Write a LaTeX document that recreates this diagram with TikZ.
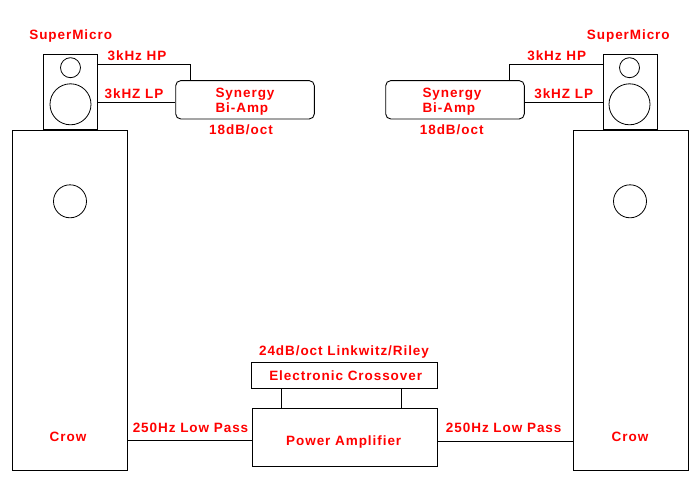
\documentclass[tikz,border=0pt]{standalone}
\usepackage{fontspec}
\setmainfont{Liberation Sans}[LetterSpace=7]
\definecolor{lblred}{RGB}{255,0,0}
\begin{document}
\begin{tikzpicture}[x=1pt,y=-1pt,
  box/.style={draw,line width=0.9pt,inner sep=0pt},
  cone/.style={draw,line width=0.8pt,circle,inner sep=0pt},
  lbl/.style={text=lblred,font=\fontsize{13.5}{15.5}\selectfont\bfseries,inner sep=0pt},
  wire/.style={line width=0.9pt}]
\useasboundingbox (0,0) rectangle (700,500);
% left side
\node[box,minimum width=115,minimum height=340] (crowL) at (69.5,300) {};
\node[cone,minimum size=33] (dL) at (70,201.3) {};
\node[box,minimum width=54,minimum height=75] (smL) at (70,91.7) {};
\node[cone,minimum size=20] (twL) at (70.5,67.7) {};
\node[cone,minimum size=41] (woL) at (70.5,104.3) {};
\node[box,rounded corners=5pt,minimum width=138.6,minimum height=38.3] (biL) at (245,99.8) {};
\node[lbl,align=left] (biLt) at (245,101.5) {Synergy\\Bi-Amp};
\node[lbl] (smLt) at (70.7,35.7) {SuperMicro};
\node[lbl] (hpLt) at (137,56) {3kHz HP};
\node[lbl] (lpLt) at (134,94) {3kHZ LP};
\node[lbl] (dbLt) at (241,130) {18dB/oct};
\node[lbl] (crowLt) at (68,436.7) {Crow};
% right side
\node[box,minimum width=115,minimum height=340] (crowR) at (630.5,300) {};
\node[cone,minimum size=33] (dR) at (630,201.3) {};
\node[box,minimum width=54,minimum height=75] (smR) at (630,91.7) {};
\node[cone,minimum size=20] (twR) at (629.5,67.7) {};
\node[cone,minimum size=41] (woR) at (629.5,104.3) {};
\node[box,rounded corners=5pt,minimum width=138.6,minimum height=38.3] (biR) at (455,99.8) {};
\node[lbl,align=left] (biRt) at (452,101.5) {Synergy\\Bi-Amp};
\node[lbl] (smRt) at (628.3,35.7) {SuperMicro};
\node[lbl] (hpRt) at (556.7,56) {3kHz HP};
\node[lbl] (lpRt) at (563.7,94) {3kHZ LP};
\node[lbl] (dbRt) at (451.7,130) {18dB/oct};
\node[lbl] (crowRt) at (630,436.7) {Crow};
% bottom
\node[box,minimum width=185.6,minimum height=26] (xo) at (344.5,375.3) {};
\node[lbl] (xot) at (345.7,375.7) {Electronic Crossover};
\node[lbl] (lrt) at (344,352.3) {24dB/oct Linkwitz/Riley};
\node[box,minimum width=185,minimum height=58] (amp) at (344.8,437.3) {};
\node[lbl] (ampt) at (343.7,441.7) {Power Amplifier};
\node[lbl] (lpbL) at (190.5,428.3) {250Hz Low Pass};
\node[lbl] (lpbR) at (503.7,428.3) {250Hz Low Pass};
% wires
\draw[wire] (smL.east |- 0,64.3) -| ([xshift=-54.3]biL.north);
\draw[wire] (smL.east |- 0,102.3) -- (biL.west |- 0,102.3);
\draw[wire] (smR.west |- 0,64.3) -| ([xshift=54.3]biR.north);
\draw[wire] (smR.west |- 0,102.3) -- (biR.east |- 0,102.3);
\draw[wire] ([xshift=-62.8]xo.south) -- ([xshift=-62.8]xo.south |- amp.north);
\draw[wire] ([xshift=57.2]xo.south) -- ([xshift=57.2]xo.south |- amp.north);
\draw[wire] (crowL.east |- 0,440) -- (amp.west |- 0,440);
\draw[wire] (amp.east |- 0,441.3) -- (crowR.west |- 0,441.3);
\end{tikzpicture}
\end{document}
